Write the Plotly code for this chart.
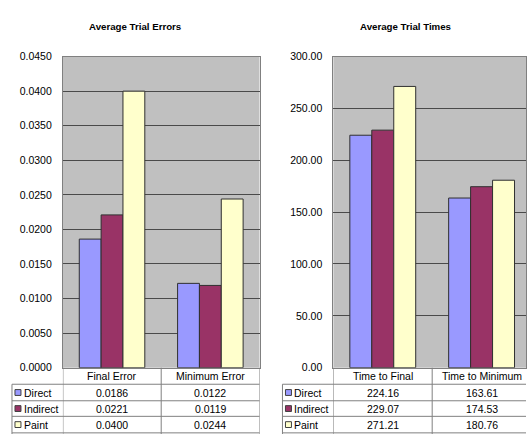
import plotly.graph_objects as go

# ---- data ----
series = ["Direct", "Indirect", "Paint"]
error_categories = ["Final Error", "Minimum Error"]
error_direct = [0.0186, 0.0122]
error_indirect = [0.0221, 0.0119]
error_paint = [0.0400, 0.0244]

time_categories = ["Time to Final", "Time to Minimum"]
time_direct = [224.16, 163.61]
time_indirect = [229.07, 174.53]
time_paint = [271.21, 180.76]

colors = ["#9999FF", "#993366", "#FFFFCC"]

W, H = 527, 434
FONT = "Liberation Sans, Arial, sans-serif"


def px(x):
    return x / W


def py(y):
    return 1 - y / H


fig = go.Figure()

error_vals = [error_direct, error_indirect, error_paint]
time_vals = [time_direct, time_indirect, time_paint]

for name, vals, c in zip(series, error_vals, colors):
    fig.add_trace(go.Bar(x=list(range(len(error_categories))), y=vals, name=name,
                         marker=dict(color=c, line=dict(color="#303030", width=1)),
                         xaxis="x", yaxis="y", showlegend=False))
for name, vals, c in zip(series, time_vals, colors):
    fig.add_trace(go.Bar(x=list(range(len(time_categories))), y=vals, name=name,
                         marker=dict(color=c, line=dict(color="#303030", width=1)),
                         xaxis="x2", yaxis="y2", showlegend=False))

# plot-area geometry (pixels)
TOP, BOT = 52, 372
L1, R1 = 63, 260
L2, R2_full = 334, 532          # right chart runs past the page edge
cat_w2 = (R2_full - L2) / 2
x2_max = -0.5 + (W - L2) / cat_w2

axis_common = dict(showline=True, linecolor="#808080", linewidth=1, mirror=True,
                   zeroline=False, fixedrange=True)

fig.update_layout(
    width=W, height=H,
    margin=dict(l=0, r=0, t=0, b=0),
    paper_bgcolor="white",
    plot_bgcolor="#C0C0C0",
    barmode="group", bargap=1.5 / 4.5, bargroupgap=0,
    font=dict(family=FONT, size=10.5, color="black"),
    xaxis=dict(domain=[px(L1), px(R1)], range=[-0.5, 1.5], showticklabels=False,
               showgrid=False, ticks="", **axis_common),
    yaxis=dict(domain=[py(BOT), py(TOP)], range=[0, 0.045], dtick=0.005,
               tickformat=".4f", showgrid=True, gridcolor="#4a4a4a", gridwidth=1,
               ticks="outside", ticklen=8, tickcolor="rgba(0,0,0,0)",
               **axis_common),
    xaxis2=dict(domain=[px(L2), 1], range=[-0.5, x2_max], showticklabels=False,
                showgrid=False, ticks="", anchor="y2", **axis_common),
    yaxis2=dict(domain=[py(BOT), py(TOP)], range=[0, 300], dtick=50,
                tickformat=".2f", showgrid=True, gridcolor="#4a4a4a", gridwidth=1,
                ticks="outside", ticklen=8, tickcolor="rgba(0,0,0,0)",
                anchor="x2", **axis_common),
)

shapes = []
annotations = []

# chart titles
annotations.append(dict(text="<b>Average Trial Errors</b>", x=px(135), y=py(21),
                        xref="paper", yref="paper", showarrow=False,
                        font=dict(size=9.7), xanchor="center", yanchor="middle"))
annotations.append(dict(text="<b>Average Trial Times</b>", x=px(406), y=py(21),
                        xref="paper", yref="paper", showarrow=False,
                        font=dict(size=9.7), xanchor="center", yanchor="middle"))

# data tables under each chart
HDR_Y = 380.5
ROW_LINES = [389, 406, 422, 439]
ROW_CENTERS = [397.5, 414, 430.5]
LINE = dict(color="#808080", width=1)


def add_table(xref, cats, vals, fmt, leg_left, right_px):
    # vertical lines at category boundaries
    for b in [-0.5, 0.5, 1.5]:
        shapes.append(dict(type="line", xref=xref, yref="paper", x0=b, x1=b,
                           y0=py(BOT), y1=py(H + 10), line=LINE))
    # legend column left edge
    shapes.append(dict(type="line", xref="paper", yref="paper",
                       x0=px(leg_left), x1=px(leg_left),
                       y0=py(ROW_LINES[0]), y1=py(H + 10), line=LINE))
    # horizontal row lines
    for yl in ROW_LINES:
        shapes.append(dict(type="line", xref="paper", yref="paper",
                           x0=px(leg_left), x1=min(1, px(right_px)),
                           y0=py(yl), y1=py(yl), line=LINE))
    # header labels
    for i, c in enumerate(cats):
        annotations.append(dict(text=c, x=i, y=py(HDR_Y), xref=xref, yref="paper",
                                showarrow=False, xanchor="center", yanchor="middle"))
    # series rows
    for r, (name, v, col) in enumerate(zip(series, vals, colors)):
        yc = ROW_CENTERS[r]
        shapes.append(dict(type="rect", xref="paper", yref="paper",
                           x0=px(leg_left + 3), x1=px(leg_left + 9),
                           y0=py(yc + 3), y1=py(yc - 3),
                           fillcolor=col, line=dict(color="#404040", width=1)))
        annotations.append(dict(text=name, x=px(leg_left + 10), y=py(yc),
                                xref="paper", yref="paper", showarrow=False,
                                xanchor="left", yanchor="middle"))
        for i, val in enumerate(v):
            annotations.append(dict(text=fmt.format(val), x=i, y=py(yc),
                                    xref=xref, yref="paper", showarrow=False,
                                    xanchor="center", yanchor="middle"))


add_table("x", error_categories, error_vals, "{:.4f}", 12, R1)
add_table("x2", time_categories, time_vals, "{:.2f}", 283, R2_full)

fig.update_layout(shapes=shapes, annotations=annotations)

fig.write_html("out.html")
